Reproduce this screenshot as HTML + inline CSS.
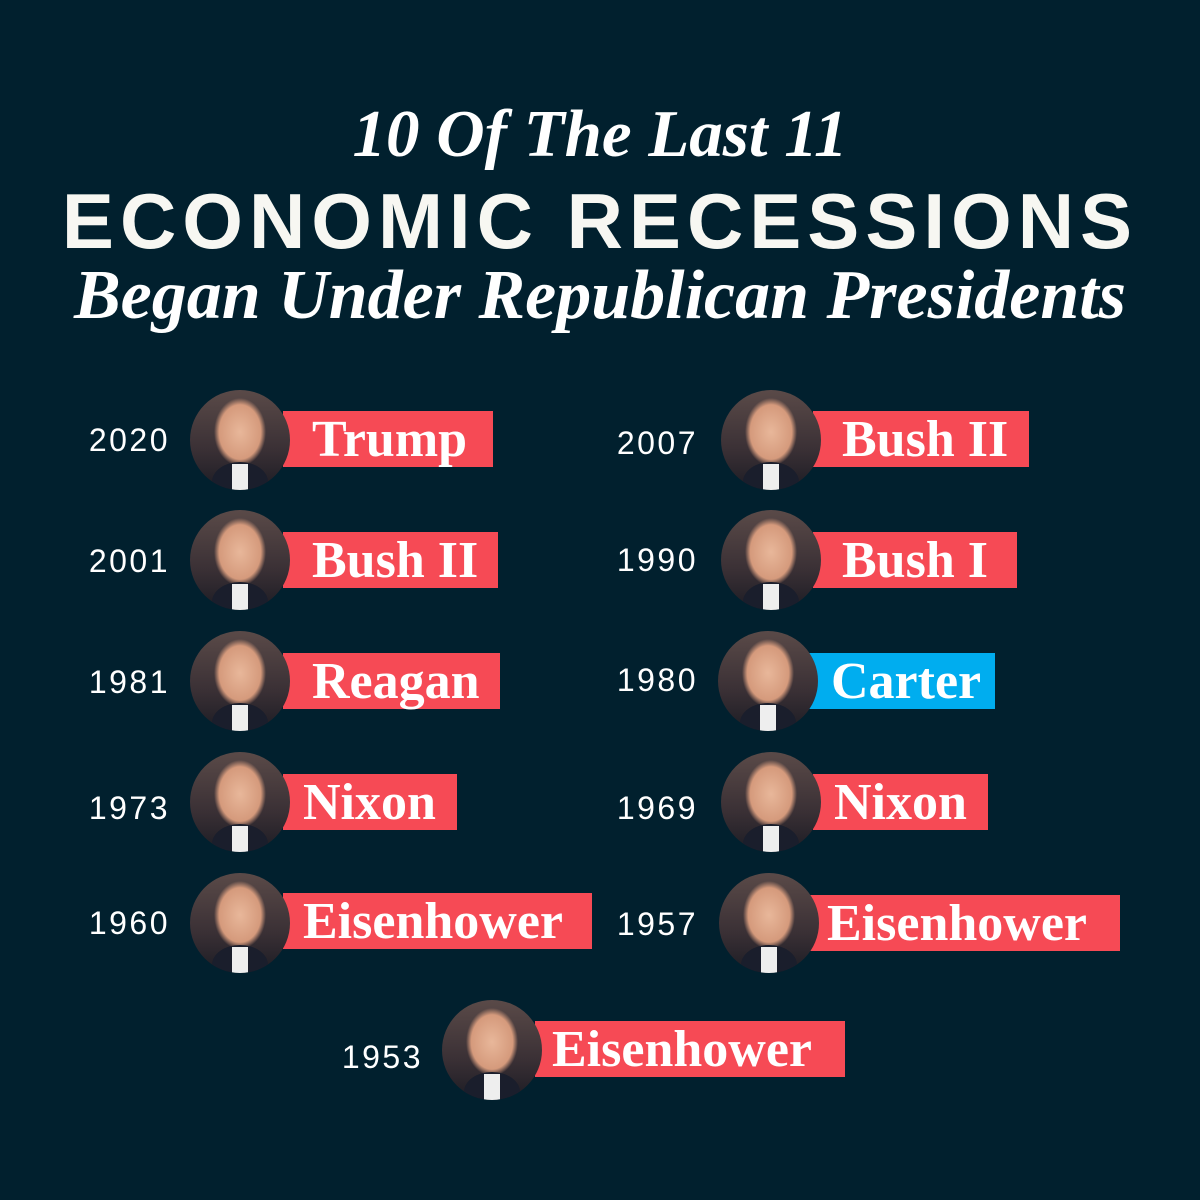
<!DOCTYPE html>
<html><head><meta charset="utf-8"><style>
body{margin:0;width:1200px;height:1200px;background:#01202e;position:relative;overflow:hidden;font-family:"Liberation Sans",sans-serif;color:#fff}
.t{position:absolute;left:0;width:1200px;text-align:center;white-space:nowrap}
.yr{position:absolute;font-size:32px;text-align:right;width:120px;letter-spacing:2.5px}
.box{position:absolute;height:56px;background:#f64a55;font-family:"Liberation Serif",serif;font-weight:bold;font-size:52px;line-height:58px;box-sizing:border-box;white-space:nowrap}
.c{position:absolute;width:100px;height:100px;border-radius:50%;overflow:hidden;background:radial-gradient(ellipse 26px 34px at 50% 42%,#e8b79a 0,#d59a7c 80%,transparent 100%),linear-gradient(#5a4a48,#3a3035 60%,#1c1c24);}
.c::after{content:"";position:absolute;left:22px;top:72px;width:56px;height:40px;border-radius:50% 50% 0 0;background:#1a1e2c}
.c::before{content:"";position:absolute;left:42px;top:74px;width:16px;height:26px;background:#eee;z-index:1}
</style></head><body>
<div class="t" style="top:96px;font-family:'Liberation Serif',serif;font-style:italic;font-weight:bold;font-size:67px">10 Of The Last 11</div>
<div class="t" style="top:176px;font-weight:bold;font-size:78px;letter-spacing:6px;color:#f7f7f2">ECONOMIC RECESSIONS</div>
<div class="t" style="top:256px;font-family:'Liberation Serif',serif;font-style:italic;font-weight:bold;font-size:70px">Began Under Republican Presidents</div>

<div class="yr" style="left:50px;top:422px">2020</div>
<div class="box" style="left:283px;top:411px;width:210px;padding-left:29px">Trump</div>
<div class="c" style="left:190px;top:390px"></div>

<div class="yr" style="left:50px;top:543px">2001</div>
<div class="box" style="left:283px;top:532px;width:215px;padding-left:29px">Bush II</div>
<div class="c" style="left:190px;top:510px"></div>

<div class="yr" style="left:50px;top:664px">1981</div>
<div class="box" style="left:283px;top:653px;width:217px;padding-left:29px">Reagan</div>
<div class="c" style="left:190px;top:631px"></div>

<div class="yr" style="left:50px;top:790px">1973</div>
<div class="box" style="left:283px;top:774px;width:174px;padding-left:20px">Nixon</div>
<div class="c" style="left:190px;top:752px"></div>

<div class="yr" style="left:50px;top:905px">1960</div>
<div class="box" style="left:283px;top:893px;width:309px;padding-left:20px">Eisenhower</div>
<div class="c" style="left:190px;top:873px"></div>

<div class="yr" style="left:578px;top:425px">2007</div>
<div class="box" style="left:813px;top:411px;width:216px;padding-left:29px">Bush II</div>
<div class="c" style="left:721px;top:390px"></div>

<div class="yr" style="left:578px;top:542px">1990</div>
<div class="box" style="left:813px;top:532px;width:204px;padding-left:29px">Bush I</div>
<div class="c" style="left:721px;top:510px"></div>

<div class="yr" style="left:578px;top:662px">1980</div>
<div class="box" style="left:805px;top:653px;width:190px;padding-left:26px;background:#00adef">Carter</div>
<div class="c" style="left:718px;top:631px"></div>

<div class="yr" style="left:578px;top:790px">1969</div>
<div class="box" style="left:813px;top:774px;width:175px;padding-left:21px">Nixon</div>
<div class="c" style="left:721px;top:752px"></div>

<div class="yr" style="left:578px;top:906px">1957</div>
<div class="box" style="left:810px;top:895px;width:310px;padding-left:17px">Eisenhower</div>
<div class="c" style="left:719px;top:873px"></div>

<div class="yr" style="left:303px;top:1039px">1953</div>
<div class="box" style="left:535px;top:1021px;width:310px;padding-left:17px">Eisenhower</div>
<div class="c" style="left:442px;top:1000px"></div>
</body></html>
